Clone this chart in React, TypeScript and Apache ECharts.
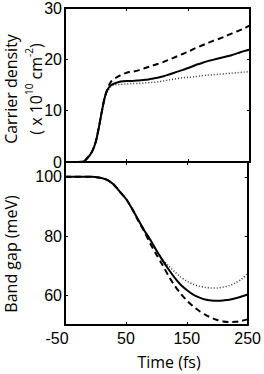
import React, { useEffect, useRef } from "react";
import * as echarts from "echarts";

// Time axis (fs)
const T = [-50, -40, -30, -20, -10, -5, 0, 5, 10, 15, 20, 25, 30, 40, 50, 60, 70, 80, 90, 100, 110, 120, 130, 140, 150, 160, 170, 180, 190, 200, 210, 220, 230, 240, 250];

// Carrier density (x 10^10 cm^-2)
const N_SOLID = [0, 0, 0, 0.1, 1.3, 2.3, 4.0, 6.8, 10.0, 12.8, 14.3, 15.0, 15.3, 15.7, 15.8, 15.8, 15.9, 16.0, 16.2, 16.4, 16.7, 17.1, 17.5, 17.9, 18.3, 18.8, 19.2, 19.6, 19.9, 20.2, 20.5, 20.8, 21.2, 21.6, 21.9];
const N_DASH = [0, 0, 0, 0.1, 1.3, 2.3, 4.0, 6.8, 10.0, 12.9, 14.6, 15.7, 16.2, 16.9, 17.4, 17.6, 17.9, 18.3, 18.7, 19.1, 19.5, 20.0, 20.5, 21.0, 21.5, 22.1, 22.6, 23.1, 23.6, 24.0, 24.5, 25.0, 25.5, 26.0, 26.6];
const N_DOT = [0, 0, 0, 0.1, 1.3, 2.3, 4.0, 6.8, 10.0, 12.7, 14.0, 14.8, 15.0, 15.1, 15.2, 15.3, 15.3, 15.4, 15.5, 15.6, 15.8, 16.0, 16.2, 16.4, 16.5, 16.6, 16.8, 16.9, 17.0, 17.1, 17.2, 17.3, 17.4, 17.5, 17.6];

// Band gap (meV)
const E_SOLID = [100, 100, 100, 100, 100, 100, 99.9, 99.8, 99.6, 99.3, 98.9, 98.2, 97.4, 95.0, 92.6, 89.3, 85.6, 82.0, 78.8, 75.2, 71.9, 68.8, 66.0, 63.6, 61.8, 60.3, 59.3, 58.6, 58.3, 58.2, 58.3, 58.5, 59.0, 59.6, 60.3];
const E_DASH = [100, 100, 100, 100, 100, 100, 99.9, 99.8, 99.6, 99.3, 98.9, 98.2, 97.4, 95.0, 92.6, 89.3, 85.3, 81.6, 77.5, 73.8, 70.3, 66.6, 63.3, 60.6, 58.3, 56.4, 54.8, 53.5, 52.5, 51.7, 51.2, 51.0, 51.1, 51.4, 51.9];
const E_DOT = [100, 100, 100, 100, 100, 100, 99.9, 99.8, 99.6, 99.3, 98.9, 98.2, 97.4, 95.0, 92.6, 89.3, 85.6, 82.0, 78.8, 75.2, 72.2, 70.0, 68.0, 66.2, 64.8, 63.8, 63.1, 62.7, 62.5, 62.5, 62.8, 63.3, 64.2, 65.5, 67.2];

// Tick values
const X_TICKS = [-50, 50, 150, 250];
const N_TICKS = [0, 10, 20, 30];
const E_TICKS = [60, 80, 100];

const FONT = "Liberation Sans";
const TITLE_FONT = "Open Sans";

const pairs = (arr: number[]) => T.map((t, i) => [t, arr[i]]);

export default function App() {
  const ref = useRef<HTMLDivElement>(null);
  useEffect(() => {
    if (!ref.current) return;
    const chart = echarts.init(ref.current, undefined, { renderer: "svg" });
    const tick = { show: true, inside: true, length: 3, lineStyle: { color: "#000", width: 1 } };
    const line = { show: true, onZero: false, lineStyle: { color: "#000", width: 2 } };
    const labelStyle = { margin: 4, fontSize: 16, fontFamily: FONT, color: "#000" };
    const xBase = (gridIndex: number, position: string, labels: boolean) => ({
      type: "value",
      gridIndex,
      position,
      min: -50,
      max: 250,
      interval: 100,
      axisLine: line,
      splitLine: { show: false },
      axisTick: tick,
      axisLabel: labels
        ? {
            show: true,
            customValues: X_TICKS,
            ...labelStyle,
            margin: 5,
            formatter: (v: number) => (v === X_TICKS[0] ? `{m|${v}}` : String(v)),
            rich: { m: { fontSize: 16, fontFamily: FONT, color: "#000", padding: [0, 16, 0, 0] } },
          }
        : { show: false },
    });
    const yBase = (gridIndex: number, position: string, min: number, max: number, interval: number, ticks: number[], custom: boolean, labels: boolean) => ({
      type: "value",
      gridIndex,
      position,
      min,
      max,
      interval,
      axisLine: line,
      splitLine: { show: false },
      axisTick: custom ? { ...tick, customValues: ticks } : tick,
      axisLabel: labels ? { show: true, customValues: ticks, ...labelStyle, margin: 3 } : { show: false },
    });
    const lineSeries = (xi: number, yi: number, data: number[], kind: string) => ({
      type: "line",
      xAxisIndex: xi,
      yAxisIndex: yi,
      data: pairs(data),
      showSymbol: false,
      smooth: 0.3,
      lineStyle:
        kind === "solid"
          ? { color: "#000", width: 2, type: "solid" }
          : kind === "dash"
          ? { color: "#000", width: 2, type: [6, 4] }
          : { color: "#333", width: 1.5, type: [1, 2] },
      z: kind === "solid" ? 3 : 2,
    });
    chart.setOption({
      animation: false,
      backgroundColor: "#fff",
      grid: [
        { left: 65, top: 6, width: 185, height: 156 },
        { left: 65, top: 162, width: 185, height: 163 },
      ],
      xAxis: [
        xBase(0, "bottom", false),
        xBase(0, "top", false),
        xBase(1, "bottom", true),
        xBase(1, "top", false),
      ],
      yAxis: [
        yBase(0, "left", 0, 30, 10, N_TICKS, false, true),
        yBase(0, "right", 0, 30, 10, N_TICKS, false, false),
        yBase(1, "left", 50, 105, 10, E_TICKS, true, true),
        yBase(1, "right", 50, 105, 10, E_TICKS, true, false),
      ],
      series: [
        lineSeries(0, 0, N_DOT, "dot"),
        lineSeries(0, 0, N_DASH, "dash"),
        lineSeries(0, 0, N_SOLID, "solid"),
        lineSeries(2, 2, E_DOT, "dot"),
        lineSeries(2, 2, E_DASH, "dash"),
        lineSeries(2, 2, E_SOLID, "solid"),
      ],
      graphic: [
        {
          type: "text",
          x: 11,
          y: 89,
          rotation: Math.PI / 2,
          style: {
            text: "Carrier density",
            font: `16px "${TITLE_FONT}"`,
            fill: "#000",
            textAlign: "center",
            textVerticalAlign: "middle",
          },
        },
        {
          type: "text",
          x: 34,
          y: 89,
          rotation: Math.PI / 2,
          style: {
            text: "{n|( x 10}{s|10}{n| cm}{s|-2}{n|)}",
            textAlign: "center",
            textVerticalAlign: "middle",
            rich: {
              n: { fontSize: 16, fontFamily: TITLE_FONT, fill: "#000", lineHeight: 20, verticalAlign: "bottom" },
              s: { fontSize: 10, fontFamily: TITLE_FONT, fill: "#000", lineHeight: 20, verticalAlign: "top" },
            },
          },
        },
        {
          type: "text",
          x: 11,
          y: 254,
          rotation: Math.PI / 2,
          style: {
            text: "Band gap (meV)",
            font: `16px "${TITLE_FONT}"`,
            fill: "#000",
            textAlign: "center",
            textVerticalAlign: "middle",
          },
        },
        {
          type: "text",
          x: 169,
          y: 362,
          style: {
            text: "Time (fs)",
            font: `16px "${TITLE_FONT}"`,
            fill: "#000",
            textAlign: "center",
            textVerticalAlign: "middle",
          },
        },
      ],
    });
    return () => chart.dispose();
  }, []);
  return (
    <div
      ref={ref}
      style={{ position: "fixed", left: 0, top: 0, width: 264, height: 374, background: "#fff" }}
    />
  );
}
